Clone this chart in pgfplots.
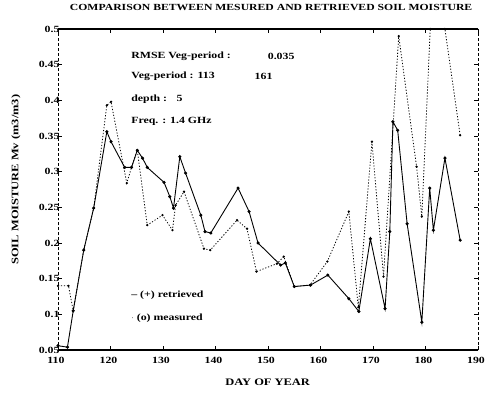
\documentclass[border=0pt]{standalone}
\usepackage{pgfplots}
\pgfplotsset{compat=1.18}
\usepackage{fontspec}
\setmainfont{Liberation Serif}[FakeStretch=1.25]
\begin{document}
\begin{tikzpicture}
\begin{axis}[
    name=ax,
    scale only axis,
    width=420bp, height=321bp,
    xmin=110, xmax=190, ymin=0.05, ymax=0.5,
    xtick={110,120,130,140,150,160,170,180,190},
    xticklabels={110,120,130,140,150,160,170,180,190},
    ytick={0.05,0.1,0.15,0.2,0.25,0.3,0.35,0.4,0.45,0.5},
    yticklabels={0.05,0.1,0.15,0.2,0.25,0.3,0.35,0.4,0.45,0.5},
    ticklabel style={font=\fontsize{9.5}{10}\selectfont\bfseries},
    yticklabel style={xshift=5bp},
    xticklabel style={yshift=-4bp, xshift=-2bp},
    tick style={black, thin},
    major tick length=4bp,
    separate axis lines,
    x axis line style={black, line width=1.1pt},
    y axis line style={black, densely dashed, line width=0.6pt},
    title={\textbf{COMPARISON BETWEEN MESURED AND RETRIEVED SOIL MOISTURE}},
    title style={font=\fontsize{9.4}{11}\selectfont, at={(axis description cs:0.02,1.047)}, anchor=west},
    xlabel={\textbf{DAY OF YEAR}},
    xlabel style={font=\fontsize{10}{11}\selectfont, at={(axis description cs:0.39,-0.1)}, anchor=west},
    ylabel={\textbf{SOIL MOISTURE Mv (m3/m3)}},
    ylabel style={font=\fontsize{10}{11}\selectfont, at={(axis description cs:-0.1,0.255)}, anchor=west},
    clip=false,
]
% retrieved
\addplot[black, line width=0.9pt, mark=*, mark size=1.1pt] coordinates {
    (110,0.056) (111.8,0.054) (112.9,0.105) (114.9,0.19) (116.8,0.249)
    (119.3,0.356) (120.1,0.342) (122.7,0.306) (124,0.306) (125.1,0.33)
    (126.1,0.319) (127,0.306) (130.2,0.285) (131.3,0.265) (132,0.249)
    (133.2,0.321) (134.3,0.298) (137.2,0.239) (138,0.216) (139.1,0.214)
    (144.3,0.277) (146.4,0.244) (148.1,0.2) (152.4,0.169) (153.3,0.172)
    (155,0.139) (158.1,0.141) (161.4,0.155) (165.4,0.122) (167.3,0.104)
    (169.5,0.206) (172.3,0.108) (173.2,0.216) (173.8,0.37) (174.7,0.358)
    (176.5,0.227) (179.3,0.089) (180.8,0.277) (181.5,0.218) (183.7,0.319)
    (186.6,0.204)
};
% measured
\addplot[black, line width=0.8pt, dash pattern=on 1.2pt off 1.8pt,
    mark=*, mark size=0.7pt, mark options={solid}] coordinates {
    (110,0.14) (112,0.14) (112.9,0.105) (114.9,0.19) (116.8,0.249)
    (119.3,0.393) (120.1,0.398) (123.1,0.284) (124,0.306) (125.1,0.33)
    (127,0.225) (129.9,0.239) (131.8,0.218) (132.4,0.253) (134,0.272)
    (137.8,0.192) (139,0.19) (144.1,0.232) (146,0.22) (147.8,0.16)
    (151.7,0.171) (153,0.181) (155,0.139) (158,0.141) (161.3,0.174)
    (165.4,0.244) (167.2,0.11) (169.8,0.342) (172,0.153) (174.9,0.49)
    (178.3,0.307) (179.3,0.237) (180.9,0.5) (183.7,0.5) (186.6,0.351)
};
\node[anchor=west, font=\fontsize{9.5}{10}\selectfont\bfseries] at (axis cs:123.3,0.462) {RMSE Veg-period :};
\node[anchor=west, font=\fontsize{9.5}{10}\selectfont\bfseries] at (axis cs:149.3,0.462) {0.035};
\node[anchor=west, font=\fontsize{9.5}{10}\selectfont\bfseries] at (axis cs:123.3,0.434) {Veg-period : 113};
\node[anchor=west, font=\fontsize{9.5}{10}\selectfont\bfseries] at (axis cs:146.8,0.434) {161};
\node[anchor=west, font=\fontsize{9.5}{10}\selectfont\bfseries] at (axis cs:123.3,0.402) {depth :\quad 5};
\node[anchor=west, font=\fontsize{9.5}{10}\selectfont\bfseries] at (axis cs:123.3,0.371) {Freq. : 1.4 GHz};
\node[anchor=west, font=\fontsize{9.5}{10}\selectfont\bfseries] at (axis cs:123.3,0.127) {-- (+) retrieved};
\node[anchor=west, font=\fontsize{9.5}{10}\selectfont\bfseries] at (axis cs:123.3,0.095) {$\cdot$ (o) measured};
\end{axis}
\pgfresetboundingbox
\path ([shift={(-58bp,-47bp)}]ax.south west) rectangle ([shift={(10bp,29bp)}]ax.north east);
\end{tikzpicture}
\end{document}
